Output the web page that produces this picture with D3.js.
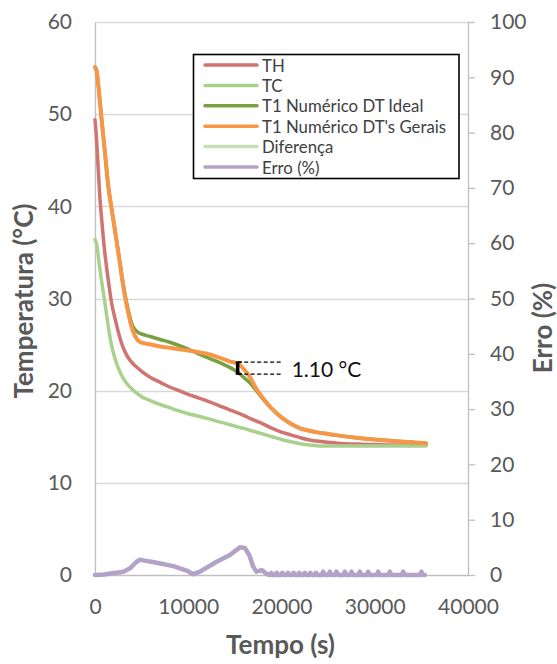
<!DOCTYPE html>
<html><head><meta charset="utf-8">
<script src="https://cdn.jsdelivr.net/npm/d3@7"></script>
<style>
html,body{margin:0;padding:0;background:#fff;}
svg{display:block;font-family:Lato,"Open Sans",sans-serif;}
</style></head>
<body>
<svg id="chart" width="557" height="664"></svg>
<script>
// ---------- data ----------
const timeT = [0,150,350,550,750,1050,1450,1800,2200,2600,3050,3550,4100,4650,5000,6000,7000,8000,9000,10000,11000,12000,13000,14000,14500,15000,15500,16000,16600,17300,18000,19000,20000,21000,22000,23000,24000,25000,26000,28000,30000,32000,34000,35500];
const TH = [49.4,47.5,44.0,40.6,38.2,35.0,31.8,29.4,27.6,26.0,24.6,23.6,22.9,22.4,22.1,21.4,20.9,20.4,20.0,19.6,19.25,18.9,18.5,18.1,17.9,17.7,17.5,17.3,17.0,16.7,16.4,15.9,15.5,15.2,14.9,14.65,14.5,14.4,14.3,14.2,14.15,14.1,14.1,14.1];
const TC = [36.4,36.0,34.6,33.0,31.6,29.6,26.8,24.8,23.3,22.2,21.3,20.6,20.05,19.6,19.35,18.9,18.5,18.15,17.8,17.5,17.25,17.0,16.7,16.45,16.3,16.15,16.0,15.9,15.7,15.5,15.3,15.0,14.7,14.45,14.25,14.1,14.0,14.0,14.0,14.0,14.0,14.0,14.0,14.0];
const T1Ideal = [55.1,54.8,53.2,51.1,49.0,46.0,42.0,39.6,37.0,34.4,31.4,28.8,26.9,26.3,26.15,25.85,25.55,25.25,24.9,24.5,24.05,23.6,23.2,22.75,22.5,22.2,21.85,21.4,20.85,20.0,19.1,18.0,17.1,16.4,15.9,15.65,15.45,15.3,15.15,14.9,14.7,14.55,14.4,14.3];
const T1Gerais = [55.1,54.8,53.2,51.1,49.0,46.0,42.0,39.6,37.0,34.3,31.2,28.5,26.4,25.4,25.2,25.0,24.8,24.65,24.5,24.35,24.2,24.0,23.7,23.35,23.15,23.05,22.8,22.3,21.5,20.2,19.2,18.0,17.1,16.4,15.9,15.65,15.45,15.3,15.15,14.9,14.7,14.55,14.4,14.3];

const timeErro = [0,1000,1800,2500,3050,3750,4460,4820,5360,6610,8400,9830,10540,11250,13040,14470,15540,16080,16540,16970,17330,17870,18400,
  18750,18900,19050,19350,19500,19650,19950,20100,20250,20550,20700,20850,21150,21300,21450,21750,21900,22050,22350,22500,22650,22950,23100,23250,23550,23700,23850,
  24300,24470,24640,25020,25190,25360,25730,25900,26070,26630,26800,26970,27350,27520,27690,28230,28400,28570,29130,29300,29470,30200,30370,30540,31450,31620,31790,32880,33050,33220,34850,35020,35190,35370];
const erro = [0,0.1,0.3,0.45,0.6,1.2,2.4,2.75,2.6,2.2,1.6,0.8,0.15,0.6,2.4,3.6,5.0,4.9,3.6,1.5,0.6,0.9,0.2,
  0,0.4,0,0,0.4,0,0,0.4,0,0,0.4,0,0,0.4,0,0,0.4,0,0,0.4,0,0,0.4,0,0,0.4,0,
  0,0.6,0,0,0.6,0,0,0.6,0,0,0.6,0,0,0.6,0,0,0.6,0,0,0.6,0,0,0.6,0,0,0.6,0,0,0.6,0,0,0.6,0,0];

const xTicks = [0,10000,20000,30000,40000];
const yTicks = [0,10,20,30,40,50,60];
const y2Ticks = [0,10,20,30,40,50,60,70,80,90,100];

const seriesNames = ["TH","TC","T1 Numérico DT Ideal","T1 Numérico DT's Gerais","Diferença","Erro (%)"];
const seriesColors = ["#CF7471","#A9D18E","#77A043","#F79646","#C5E0B4","#B3A2C7"];

const annTime = 15300;
const annValues = [23.1, 21.8];
const annLabel = "1.10 °C";

// ---------- layout ----------
const L = 95, R = 468, T = 22, B = 575;
const svg = d3.select("#chart");
const x = d3.scaleLinear().domain([0,40000]).range([L,R]);
const y = d3.scaleLinear().domain([0,60]).range([B,T]);
const y2 = d3.scaleLinear().domain([0,100]).range([B,T]);
const grid = "#D9D9D9", axisCol = "#BFBFBF", txt = "#595959";

// gridlines
svg.append("g").selectAll("line").data(yTicks.filter(d=>d>0)).join("line")
  .attr("x1",L).attr("x2",R).attr("y1",d=>Math.round(y(d))+0.5).attr("y2",d=>Math.round(y(d))+0.5)
  .attr("stroke",grid).attr("stroke-width",1.3);

// axes
const fontSize = "21px";
const gl = svg.append("g").attr("transform",`translate(${L},0)`)
  .call(d3.axisLeft(y).tickValues(yTicks).tickSize(0).tickPadding(23).tickFormat(d3.format("d")));
const gr = svg.append("g").attr("transform",`translate(${R},0)`)
  .call(d3.axisRight(y2).tickValues(y2Ticks).tickSize(7).tickSizeOuter(0).tickPadding(15).tickFormat(d3.format("d")));
const gb = svg.append("g").attr("transform",`translate(0,${B})`)
  .call(d3.axisBottom(x).tickValues(xTicks).tickSize(0).tickPadding(24).tickFormat(d3.format("d")));
[gl,gr,gb].forEach(g=>{
  g.selectAll("text").attr("fill",txt).style("font-size",fontSize).style("font-family","Lato");
  g.select(".domain").attr("stroke",axisCol).attr("stroke-width",1.3);
  g.selectAll(".tick line").attr("stroke",axisCol).attr("stroke-width",1.3);
});

// lines
const curve = d3.curveCatmullRom.alpha(0.5);
const line = (ys, sc) => d3.line().x((d,i)=>x(timeT[i])).y(d=>sc(d)).curve(curve)(ys);
const plot = svg.append("g").attr("fill","none").attr("stroke-linecap","round").attr("stroke-linejoin","round");
plot.append("path").attr("d",line(TH,y)).attr("stroke",seriesColors[0]).attr("stroke-width",3.5);
plot.append("path").attr("d",line(TC,y)).attr("stroke",seriesColors[1]).attr("stroke-width",3.5);
plot.append("path").attr("d",line(T1Ideal,y)).attr("stroke",seriesColors[2]).attr("stroke-width",3.5);
plot.append("path").attr("d",line(T1Gerais,y)).attr("stroke",seriesColors[3]).attr("stroke-width",4);
plot.append("path")
  .attr("d",d3.line().x((d,i)=>x(timeErro[i])).y(d=>y2(d))(erro))
  .attr("stroke",seriesColors[5]).attr("stroke-width",4.5);

// annotation
const ax = x(annTime);
const ann = svg.append("g");
ann.append("line").attr("x1",ax).attr("x2",ax).attr("y1",y(annValues[0])).attr("y2",y(annValues[1]))
  .attr("stroke","#000").attr("stroke-width",3.5);
ann.selectAll("line.cap").data(annValues).join("line").attr("class","cap")
  .attr("x1",ax-2).attr("x2",ax+4).attr("y1",d=>y(d)).attr("y2",d=>y(d)).attr("stroke","#000").attr("stroke-width",1.5);
ann.selectAll("line.dash").data(annValues).join("line").attr("class","dash")
  .attr("x1",ax).attr("x2",ax+44).attr("y1",d=>y(d)).attr("y2",d=>y(d))
  .attr("stroke","#000").attr("stroke-width",1.3).attr("stroke-dasharray","4,2.5");
ann.append("text").attr("x",ax+54).attr("y",(y(annValues[0])+y(annValues[1]))/2)
  .attr("dominant-baseline","central").style("font-size","21px").attr("fill","#111").text(annLabel);

// titles
svg.append("text").attr("transform","translate(33,301) rotate(-90)").attr("text-anchor","middle")
  .style("font-size","26px").style("font-weight","bold").attr("fill",txt).text("Temperatura (°C)");
svg.append("text").attr("transform","translate(552,328) rotate(-90)").attr("text-anchor","middle")
  .style("font-size","26px").style("font-weight","bold").attr("fill",txt).text("Erro (%)");
svg.append("text").attr("x",280.5).attr("y",654).attr("text-anchor","middle")
  .style("font-size","26px").style("font-weight","bold").attr("fill",txt).text("Tempo (s)");

// legend
const lg = svg.append("g");
lg.append("rect").attr("x",193.5).attr("y",54.5).attr("width",265.5).attr("height",124)
  .attr("fill","#fff").attr("stroke","#000").attr("stroke-width",1.6);
const rows = lg.selectAll("g.row").data(seriesNames).join("g").attr("class","row")
  .attr("transform",(d,i)=>`translate(0,${65+i*20.4})`);
rows.append("line").attr("x1",205).attr("x2",257).attr("stroke",(d,i)=>seriesColors[i])
  .attr("stroke-width",3.5).attr("stroke-linecap","round");
rows.append("text").attr("x",262).attr("dominant-baseline","central").style("font-size","16.8px")
  .attr("fill","#404040").text(d=>d);
</script>
</body></html>
